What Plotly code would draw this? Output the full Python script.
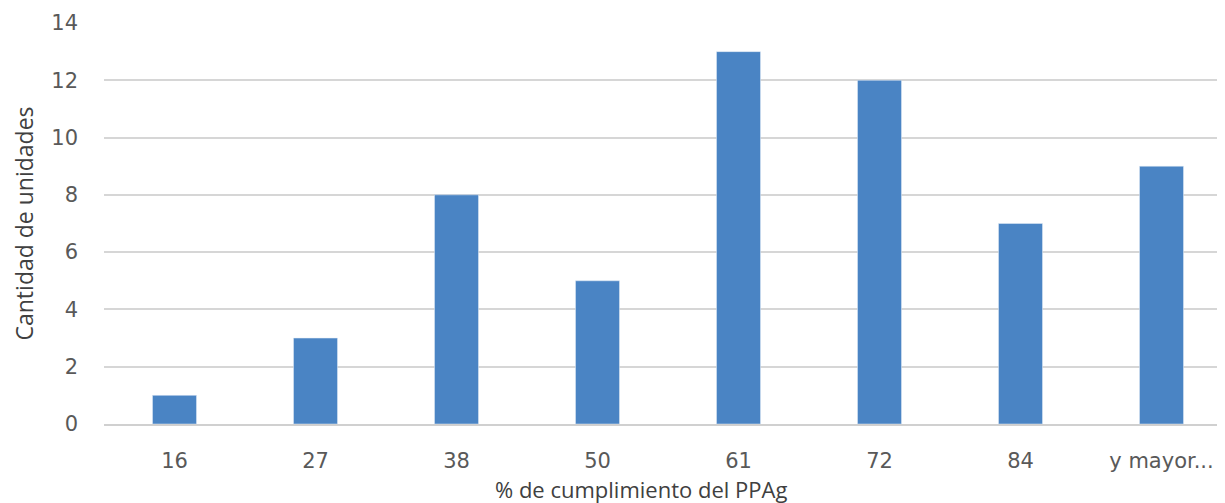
import plotly.graph_objects as go

categories = ["16", "27", "38", "50", "61", "72", "84", "y mayor..."]
values = [1, 3, 8, 5, 13, 12, 7, 9]

fig = go.Figure()
fig.add_trace(go.Bar(x=categories, y=values, marker_color="#4A84C4", width=0.312))

font_color = "#595959"
FONT = "DejaVu Sans, Open Sans"
# page body has an 8px margin, so figure origin is at (8, 8) in the screenshot
L, T = 96, 15
W, H = 1225, 503
plot_w = 1128
plot_h = 401
fig.update_layout(
    width=W, height=H,
    margin=dict(l=L, r=W - L - plot_w, t=T, b=H - T - plot_h),
    paper_bgcolor="white", plot_bgcolor="white",
    font=dict(family=FONT, color=font_color, size=21),
    showlegend=False,
)
fig.update_xaxes(
    type="category", showgrid=False, showline=True, linecolor="#D0D0D0", linewidth=1.5,
    ticks="", tickfont=dict(size=21, color=font_color), ticklabelstandoff=17,
)
fig.update_yaxes(
    range=[0, 14], dtick=2, showgrid=True, gridcolor="#D6D6D6", gridwidth=1.5,
    zeroline=False, showline=False, tickfont=dict(size=21, color=font_color),
    ticklabelstandoff=25,
)
fig.add_annotation(
    text="Cantidad de unidades", textangle=-90, xref="paper", yref="paper",
    x=(15 - L) / plot_w, y=0.5, xanchor="center", yanchor="middle", showarrow=False,
    font=dict(size=23, color="#404040", family="Open Sans, DejaVu Sans"),
)
fig.add_annotation(
    text="% de cumplimiento del PPAg", xref="paper", yref="paper",
    x=(633 - L) / plot_w, y=(416 - 481) / plot_h, xanchor="center", yanchor="middle",
    showarrow=False,
    font=dict(size=22, color="#404040", family="Open Sans, DejaVu Sans"),
)
fig.write_html("out.html")
